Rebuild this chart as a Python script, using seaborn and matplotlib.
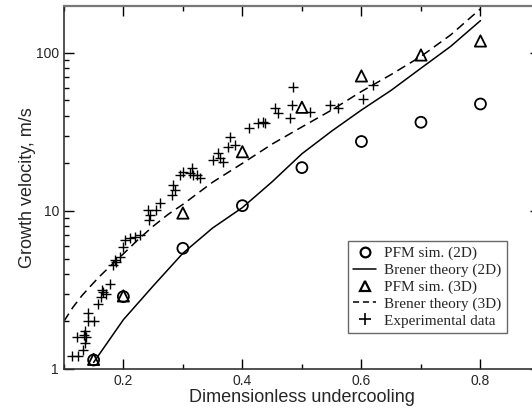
import matplotlib
matplotlib.use("Agg")
import matplotlib.pyplot as plt
from matplotlib.lines import Line2D
from matplotlib.ticker import LogLocator, NullFormatter, MultipleLocator
import seaborn as sns

# PFM simulations (2D / 3D)
pfm_x = [0.15, 0.2, 0.3, 0.4, 0.5, 0.6, 0.7, 0.8]
pfm2d_v = [1.14, 2.87, 5.8, 10.8, 18.8, 27.5, 36.4, 47.5]
pfm3d_v = [1.15, 2.9, 9.7, 23.7, 45.3, 71.5, 97, 119]

# Brener theory curves
brener2d_x = [0.15, 0.2, 0.25, 0.3, 0.35, 0.4, 0.45, 0.5, 0.55, 0.6, 0.65, 0.7, 0.75, 0.8]
brener2d_v = [1.1, 2.05, 3.35, 5.4, 7.8, 10.5, 15.3, 23, 32, 43.5, 58, 80, 110, 160]
brener3d_x = [0.1, 0.115, 0.13, 0.145, 0.16, 0.18, 0.2, 0.225, 0.25, 0.275, 0.3,
              0.35, 0.4, 0.45, 0.5, 0.55, 0.6, 0.65, 0.7, 0.75, 0.8]
brener3d_v = [2.0, 2.45, 2.9, 3.35, 3.85, 4.55, 5.35, 6.6, 8.0, 9.5, 11.0,
              15.2, 20, 26.5, 34, 43.5, 57, 73, 95, 130, 190]

# experimental data
exp_x = [0.114, 0.1235, 0.132, 0.135, 0.122, 0.134, 0.136, 0.138, 0.140, 0.15,
         0.140, 0.157, 0.162, 0.166, 0.170, 0.164, 0.178, 0.183, 0.187, 0.186,
         0.194, 0.2, 0.2025, 0.211, 0.219, 0.228, 0.242, 0.245, 0.243, 0.261,
         0.255, 0.281, 0.287, 0.284, 0.295, 0.3, 0.312, 0.323, 0.315, 0.317,
         0.328, 0.351, 0.362, 0.368, 0.359, 0.376, 0.379, 0.387, 0.411, 0.427,
         0.438, 0.435, 0.455, 0.46, 0.485, 0.48, 0.483, 0.513, 0.547, 0.561,
         0.603, 0.62]
exp_v = [1.2, 1.2, 1.32, 1.45, 1.59, 1.64, 1.74, 1.59, 2.0, 2.0,
         2.25, 2.58, 2.87, 3.08, 3.0, 3.16, 3.45, 4.55, 4.77, 4.9,
         5.14, 5.94, 6.55, 6.7, 6.88, 7.06, 10.1, 9.43, 8.77, 11.2,
         10.1, 12.6, 13.6, 14.6, 16.9, 17.7, 17.3, 16.9, 18.6, 16.9,
         16.1, 21, 21.6, 20.5, 23.2, 25.5, 29.5, 26.2, 33.4, 35.9,
         35.9, 36.7, 44.7, 41.5, 61.2, 38.6, 46.9, 42.5, 46.9, 44.7,
         50.9, 62.7]

labels = ["PFM sim. (2D)", "Brener theory (2D)", "PFM sim. (3D)",
          "Brener theory (3D)", "Experimental data"]

sns.set_style("ticks")
plt.rcParams['font.family'] = ['Liberation Sans', 'DejaVu Sans']

fig = plt.figure(figsize=(5.32, 4.12), dpi=100)
ax = fig.add_axes([0.120, 0.1044, 0.895, 0.881])

sns.lineplot(x=brener2d_x, y=brener2d_v, ax=ax, color='k', lw=1.1, label=labels[1])
sns.lineplot(x=brener3d_x, y=brener3d_v, ax=ax, color='k', lw=1.1, label=labels[3])
ax.lines[-1].set_dashes([6, 3.5])
sns.scatterplot(x=pfm_x, y=pfm2d_v, ax=ax, marker='o', s=62, facecolor='none',
                edgecolor='k', linewidth=1.3, label=labels[0], zorder=3)
sns.scatterplot(x=pfm_x, y=pfm3d_v, ax=ax, marker='^', s=66, facecolor='none',
                edgecolor='k', linewidth=1.3, label=labels[2], zorder=3)
sns.scatterplot(x=exp_x, y=exp_v, ax=ax, marker='+', s=55, color='k',
                linewidth=1.0, label=labels[4], zorder=3)

ax.set_yscale('log')
ax.set_xlim(0.1, 0.9)
ax.set_ylim(1, 198)
ax.set_xticks([0.2, 0.4, 0.6, 0.8])
ax.set_xticklabels(['0.2', '0.4', '0.6', '0.8'])
ax.xaxis.set_minor_locator(MultipleLocator(0.1))
ax.set_yticks([1, 10, 100])
ax.set_yticklabels(['1', '10', '100'])
ax.yaxis.set_minor_locator(LogLocator(base=10, subs=range(2, 10)))
ax.yaxis.set_minor_formatter(NullFormatter())
ax.tick_params(which='both', direction='in', top=True, right=True,
               labelsize=10, width=1.0, color='k')
ax.tick_params(which='major', length=7)
ax.tick_params(which='minor', length=3.5)
for sp in ax.spines.values():
    sp.set_linewidth(1.2)
    sp.set_color('#333333')
ax.spines['top'].set_color('#777777')
ax.spines['top'].set_linewidth(1.6)

ax.set_xlabel("Dimensionless undercooling", fontsize=13, labelpad=1)
ax.set_ylabel("Growth velocity, m/s", fontsize=13, labelpad=0)

handles = [
    Line2D([], [], ls='none', marker='o', ms=7, mfc='none', mec='k', mew=1.6),
    Line2D([], [], color='k', lw=1.1),
    Line2D([], [], ls='none', marker='^', ms=7.5, mfc='none', mec='k', mew=1.6),
    Line2D([], [], color='k', lw=1.1, dashes=[4, 2.5]),
    Line2D([], [], ls='none', marker='+', ms=8, mec='k', mew=1.2),
]
leg = ax.legend(handles, labels, loc='lower left', bbox_to_anchor=(0.597, 0.099),
                prop={'family': 'Liberation Serif', 'size': 11},
                frameon=True, fancybox=False, edgecolor='#444444',
                handlelength=1.5, handletextpad=0.5, labelspacing=0.2,
                borderpad=0.35, borderaxespad=0)
leg.get_frame().set_linewidth(1.0)

fig.savefig("out.png", dpi=100)
